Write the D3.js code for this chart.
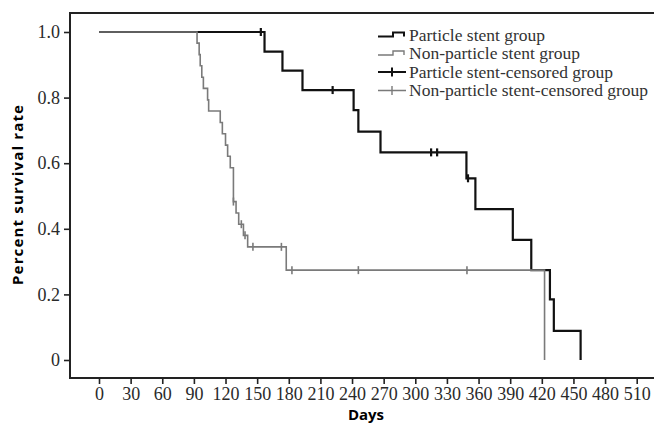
<!DOCTYPE html>
<html>
<head>
<meta charset="utf-8">
<script src="https://cdn.jsdelivr.net/npm/d3@7"></script>
<style>
  body { margin: 0; background: #fff; }
  svg { display: block; }
</style>
</head>
<body>
<svg id="chart"></svg>
<script>
// Kaplan-Meier data (days, survival after the step)
const particleDays = [0, 157, 174, 193, 241.5, 246, 267, 348.5, 357, 392.5, 410, 427.7, 431.4, 456.8];
const particleSurv = [1.0, 0.94, 0.882, 0.823, 0.762, 0.696, 0.633, 0.554, 0.46, 0.366, 0.274, 0.185, 0.089, 0];
const particleCensored = [153.5, 221.6, 315, 320.7, 350];

const nonParticleDays = [0, 93, 95, 96, 97.5, 99, 103, 104, 115, 117, 120, 122, 124.5, 127.5, 130, 132.5, 137, 141, 177.6, 422.6];
const nonParticleSurv = [1.0, 0.966, 0.931, 0.897, 0.862, 0.828, 0.793, 0.759, 0.724, 0.69, 0.655, 0.621, 0.586, 0.483, 0.448, 0.414, 0.38, 0.345, 0.274, 0];
const nonParticleCensored = [127.5, 135, 138.5, 146, 173, 183, 246, 349];

const xTicks = d3.range(0, 511, 30);
const yTicks = [0, 0.2, 0.4, 0.6, 0.8, 1.0];

const legendLabels = ["Particle stent group", "Non-particle stent group",
  "Particle stent-censored group", "Non-particle stent-censored group"];

const W = 654, H = 425;
const frame = { left: 70, top: 13, right: 654, bottom: 378 };

const svg = d3.select("#chart").attr("width", W).attr("height", H);

const x = d3.scaleLinear().domain([0, 510]).range([99, 636.7]);
const y = d3.scaleLinear().domain([0, 1]).range([360, 32]);

const black = "#111", grey = "#7a7a7a";

// frame (left, top, bottom)
svg.append("path")
  .attr("d", `M${frame.right},${frame.top} H${frame.left} V${frame.bottom} H${frame.right}`)
  .attr("fill", "none").attr("stroke", "#222").attr("stroke-width", 2);

// axes
const xAxis = svg.append("g")
  .attr("transform", `translate(0,${frame.bottom})`)
  .call(d3.axisBottom(x).tickValues(xTicks).tickSize(6).tickPadding(4));
xAxis.select(".domain").remove();

const yAxis = svg.append("g")
  .attr("transform", `translate(${frame.left},0)`)
  .call(d3.axisLeft(y).tickValues(yTicks).tickSize(6).tickPadding(4)
    .tickFormat(d => d === 0 ? "0" : d3.format(".1f")(d)));
yAxis.select(".domain").remove();

svg.selectAll(".tick line").attr("stroke", "#222").attr("stroke-width", 1.6);
svg.selectAll(".tick text")
  .attr("fill", "#2a2a2a")
  .style("font-family", "'Liberation Serif', 'Times New Roman', serif")
  .style("font-size", "18px");
xAxis.selectAll(".tick text").attr("dy", "12px");

// axis titles
svg.append("text")
  .attr("transform", "translate(23,195) rotate(-90)")
  .attr("text-anchor", "middle")
  .style("font-family", "'Open Sans', sans-serif")
  .style("font-weight", "bold")
  .style("font-size", "15px")
  .attr("textLength", 180)
  .text("Percent survival rate");

svg.append("text")
  .attr("x", 366).attr("y", 420)
  .attr("text-anchor", "middle")
  .style("font-family", "'Open Sans', sans-serif")
  .style("font-weight", "bold")
  .style("font-size", "15px")
  .text("Days");

// step curves
const line = d3.line()
  .x(d => x(d[0]))
  .y(d => y(d[1]))
  .curve(d3.curveStepAfter);

function survAt(days, surv, t) {
  let s = surv[0];
  for (let i = 0; i < days.length; i++) if (days[i] <= t) s = surv[i];
  return s;
}

const groups = [
  { days: particleDays, surv: particleSurv, cens: particleCensored, color: black, width: 2.2 },
  { days: nonParticleDays, surv: nonParticleSurv, cens: nonParticleCensored, color: grey, width: 1.6 }
];

groups.forEach(g => {
  const pts = g.days.map((d, i) => [d, g.surv[i]]);
  svg.append("path")
    .datum(pts)
    .attr("d", line)
    .attr("fill", "none")
    .attr("stroke", g.color)
    .attr("stroke-width", g.width);

  svg.append("g").selectAll("line")
    .data(g.cens)
    .join("line")
    .attr("x1", d => x(d)).attr("x2", d => x(d))
    .attr("y1", d => y(survAt(g.days, g.surv, d)) - 4)
    .attr("y2", d => y(survAt(g.days, g.surv, d)) + 4)
    .attr("stroke", g.color)
    .attr("stroke-width", g.width);
});

// legend
const legend = svg.append("g").attr("transform", "translate(378,35)");
const rowH = 18.5;
legendLabels.forEach((lab, i) => {
  const row = legend.append("g").attr("transform", `translate(0,${i * rowH})`);
  const c = i % 2 === 0 ? black : grey;
  const w = i % 2 === 0 ? 2 : 1.4;
  if (i < 2) {
    row.append("path")
      .attr("d", "M0,1.5 H15 V-2.5 H26 V1.5")
      .attr("fill", "none").attr("stroke", c).attr("stroke-width", w);
  } else {
    row.append("path")
      .attr("d", "M0,0 H28 M14,-4.5 V4.5")
      .attr("fill", "none").attr("stroke", c).attr("stroke-width", w);
  }
  row.append("text")
    .attr("x", 31).attr("y", 0).attr("dy", "0.32em")
    .attr("fill", "#333")
    .style("font-family", "'Liberation Serif', 'Times New Roman', serif")
    .style("font-size", "17.5px")
    .text(lab);
});
</script>
</body>
</html>
